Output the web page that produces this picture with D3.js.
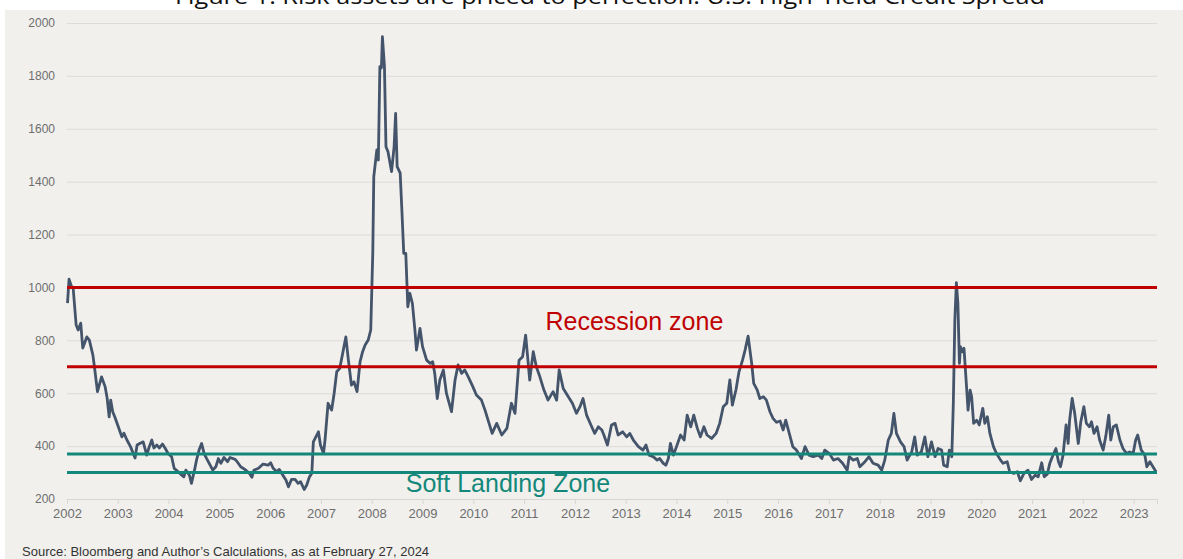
<!DOCTYPE html>
<html>
<head>
<meta charset="utf-8">
<script src="https://cdn.jsdelivr.net/npm/d3@7"></script>
<style>
  html, body { margin: 0; padding: 0; background: #ffffff; }
  #chart { width: 1183px; height: 559px; overflow: hidden; }
</style>
</head>
<body>
<div id="chart"></div>
<script>
// ---------------------------------------------------------------------------
// data (fractional year, spread in bp)
const years = [
  2002.01, 2002.04, 2002.09, 2002.12, 2002.18, 2002.22, 2002.27, 2002.31, 2002.39, 2002.44,
  2002.51, 2002.54, 2002.60, 2002.68, 2002.75, 2002.79, 2002.83, 2002.86, 2002.90, 2002.94,
  2003.01, 2003.08, 2003.12, 2003.18, 2003.25, 2003.34, 2003.38, 2003.44, 2003.50, 2003.57,
  2003.62, 2003.67, 2003.71, 2003.77, 2003.82, 2003.88, 2003.93, 2003.99, 2004.06, 2004.11,
  2004.19, 2004.26, 2004.30, 2004.34, 2004.41, 2004.45, 2004.51, 2004.55, 2004.60, 2004.65,
  2004.70, 2004.75, 2004.80, 2004.87, 2004.93, 2004.98, 2005.03, 2005.09, 2005.16, 2005.21,
  2005.31, 2005.35, 2005.42, 2005.50, 2005.59, 2005.64, 2005.68, 2005.77, 2005.86, 2005.96,
  2006.01, 2006.06, 2006.13, 2006.18, 2006.25, 2006.31, 2006.36, 2006.42, 2006.49, 2006.55,
  2006.60, 2006.67, 2006.72, 2006.77, 2006.82, 2006.85, 2006.90, 2006.95, 2006.99, 2007.05,
  2007.08, 2007.14, 2007.21, 2007.26, 2007.31, 2007.37, 2007.44, 2007.49, 2007.54, 2007.60,
  2007.65, 2007.71, 2007.77, 2007.82, 2007.87, 2007.93, 2007.98, 2008.02, 2008.04, 2008.10,
  2008.13, 2008.16, 2008.19, 2008.21, 2008.25, 2008.28, 2008.32, 2008.39, 2008.44, 2008.47,
  2008.50, 2008.56, 2008.59, 2008.63, 2008.67, 2008.71, 2008.75, 2008.80, 2008.85, 2008.88,
  2008.95, 2009.00, 2009.08, 2009.15, 2009.20, 2009.24, 2009.29, 2009.34, 2009.41, 2009.47,
  2009.57, 2009.64, 2009.70, 2009.77, 2009.83, 2009.90, 2009.99, 2010.06, 2010.16, 2010.23,
  2010.29, 2010.37, 2010.46, 2010.56, 2010.66, 2010.75, 2010.82, 2010.90, 2010.97, 2011.03,
  2011.11, 2011.18, 2011.24, 2011.31, 2011.39, 2011.47, 2011.57, 2011.64, 2011.69, 2011.77,
  2011.87, 2011.95, 2012.03, 2012.10, 2012.16, 2012.23, 2012.33, 2012.39, 2012.46, 2012.53,
  2012.57, 2012.64, 2012.72, 2012.79, 2012.85, 2012.94, 2013.02, 2013.08, 2013.15, 2013.25,
  2013.34, 2013.40, 2013.46, 2013.54, 2013.62, 2013.67, 2013.74, 2013.79, 2013.84, 2013.88,
  2013.94, 2014.00, 2014.08, 2014.15, 2014.21, 2014.28, 2014.34, 2014.41, 2014.47, 2014.54,
  2014.60, 2014.69, 2014.78, 2014.85, 2014.92, 2014.99, 2015.05, 2015.10, 2015.17, 2015.23,
  2015.30, 2015.35, 2015.41, 2015.48, 2015.52, 2015.59, 2015.64, 2015.71, 2015.77, 2015.84,
  2015.90, 2015.97, 2016.04, 2016.10, 2016.15, 2016.22, 2016.29, 2016.36, 2016.46, 2016.53,
  2016.61, 2016.69, 2016.79, 2016.86, 2016.92, 2017.01, 2017.09, 2017.18, 2017.27, 2017.36,
  2017.40, 2017.48, 2017.56, 2017.61, 2017.71, 2017.79, 2017.87, 2017.97, 2018.04, 2018.10,
  2018.17, 2018.23, 2018.28, 2018.33, 2018.41, 2018.48, 2018.54, 2018.63, 2018.69, 2018.74,
  2018.82, 2018.89, 2018.95, 2019.02, 2019.09, 2019.15, 2019.22, 2019.26, 2019.33, 2019.37,
  2019.42, 2019.45, 2019.48, 2019.51, 2019.54, 2019.57, 2019.59, 2019.63, 2019.66, 2019.71,
  2019.74, 2019.78, 2019.81, 2019.85, 2019.91, 2019.96, 2020.03, 2020.07, 2020.12, 2020.17,
  2020.24, 2020.30, 2020.38, 2020.43, 2020.51, 2020.56, 2020.64, 2020.71, 2020.77, 2020.84,
  2020.92, 2020.99, 2021.06, 2021.12, 2021.19, 2021.24, 2021.30, 2021.35, 2021.40, 2021.47,
  2021.52, 2021.56, 2021.61, 2021.67, 2021.71, 2021.74, 2021.79, 2021.84, 2021.91, 2021.96,
  2022.02, 2022.07, 2022.13, 2022.17, 2022.22, 2022.28, 2022.33, 2022.40, 2022.45, 2022.51,
  2022.55, 2022.60, 2022.66, 2022.73, 2022.79, 2022.86, 2022.92, 2022.99, 2023.04, 2023.08,
  2023.15, 2023.22, 2023.26, 2023.32, 2023.38, 2023.44
];

const spreads = [
  941, 1031, 1003, 1000, 858, 839, 865, 771, 813, 801,
  744, 700, 606, 662, 625, 582, 511, 574, 530, 511,
  473, 435, 449, 423, 398, 355, 404, 411, 416, 366,
  398, 423, 393, 404, 393, 408, 393, 372, 360, 316,
  303, 290, 284, 309, 290, 259, 309, 347, 385, 410,
  372, 353, 335, 309, 322, 353, 335, 357, 341, 357,
  350, 341, 322, 312, 297, 282, 309, 316, 332, 328,
  337, 316, 303, 312, 290, 272, 246, 274, 274, 259,
  265, 236, 253, 282, 297, 416, 435, 454, 404, 372,
  423, 562, 536, 600, 681, 694, 763, 813, 725, 631,
  643, 606, 719, 757, 782, 801, 839, 1129, 1419, 1520,
  1482, 1835, 1830, 1948, 1835, 1532, 1513, 1438, 1532, 1658,
  1457, 1432, 1305, 1129, 1129, 927, 978, 940, 839, 763,
  845, 776, 725, 713, 719, 675, 580, 650, 688, 600,
  530, 650, 707, 675, 688, 662, 625, 593, 574, 536,
  498, 448, 486, 442, 467, 562, 524, 725, 738, 820,
  650, 757, 700, 662, 612, 574, 606, 574, 688, 618,
  587, 562, 524, 549, 580, 517, 473, 448, 473, 461,
  442, 404, 480, 486, 442, 454, 435, 448, 423, 398,
  385, 404, 366, 360, 347, 353, 335, 328, 353, 410,
  366, 398, 442, 423, 517, 473, 517, 467, 435, 473,
  442, 429, 448, 486, 549, 562, 650, 555, 612, 681,
  725, 763, 816, 713, 637, 612, 580, 587, 574, 530,
  505, 490, 495, 461, 498, 448, 398, 385, 353, 398,
  366, 360, 366, 353, 385, 372, 347, 353, 335, 309,
  360, 347, 353, 322, 341, 360, 335, 328, 309, 347,
  423, 448, 524, 448, 416, 398, 347, 378, 435, 366,
  378, 435, 360, 416, 360, 391, 385, 328, 322, 385,
  360, 562, 877, 1018, 940, 713, 776, 757, 770, 625,
  536, 612, 587, 486, 498, 480, 543, 486, 511, 448,
  398, 372, 347, 335, 341, 303, 297, 303, 269, 297,
  309, 274, 290, 284, 337, 284, 294, 335, 360, 391,
  341, 322, 366, 480, 410, 498, 580, 524, 410, 492,
  549, 486, 473, 492, 448, 473, 423, 385, 435, 517,
  423, 473, 480, 423, 391, 372, 378, 372, 423, 442,
  385, 366, 322, 341, 322, 303
];

const yearTicks = d3.range(2002, 2024);               // 2002 ... 2023
const spreadTicks = [200, 400, 600, 800, 1000, 1200, 1400, 1600, 1800, 2000];
const recessionLevels = [1000, 700];
const softLandingLevels = [370, 300];

const titleText = "Figure 1: Risk assets are priced to perfection: U.S. High-Yield Credit Spread";
const sourceText = "Source: Bloomberg and Author\u2019s Calculations, as at February 27, 2024";

// ---------------------------------------------------------------------------
// dimensions
const W = 1183, H = 559;
const margin = {top: 23, right: 26, bottom: 60, left: 67};
const width = W - margin.left - margin.right;    // 1090
const height = H - margin.top - margin.bottom;   // 476

const svg = d3.select("#chart")
  .append("svg")
    .attr("width", W)
    .attr("height", H);

// grey panel behind the plot
svg.append("rect")
  .attr("x", 5).attr("y", 10)
  .attr("width", W - 5).attr("height", H - 10)
  .attr("fill", "#f1f0ed");

// title (cut off at the top like the picture)
svg.append("text")
  .attr("x", 610).attr("y", 4)
  .attr("text-anchor", "middle")
  .attr("font-family", "'Open Sans', 'Noto Sans', sans-serif")
  .attr("font-size", 22)
  .attr("textLength", 870)
  .attr("lengthAdjust", "spacingAndGlyphs")
  .attr("fill", "#111")
  .text(titleText);

const g = svg.append("g")
  .attr("transform", "translate(" + margin.left + "," + margin.top + ")");

// scales
const x = d3.scaleLinear()
  .domain([2002, 2023.46])
  .range([0, width]);

const y = d3.scaleLinear()
  .domain([200, 2000])
  .range([height, 0]);

// horizontal grid + y labels
const yAxis = g.append("g")
  .call(d3.axisLeft(y).tickValues(spreadTicks).tickSize(-width).tickPadding(12).tickFormat(d3.format("d")));
yAxis.select(".domain").remove();
yAxis.selectAll(".tick line").attr("stroke", "#dcdcdc").attr("stroke-width", 1);
yAxis.selectAll(".tick text")
  .attr("font-family", "'Liberation Sans', Arial, sans-serif")
  .attr("font-size", 12)
  .attr("fill", "#6e6e6e");

// x axis
const xAxis = g.append("g")
  .attr("transform", "translate(0," + height + ")")
  .call(d3.axisBottom(x).tickValues(yearTicks).tickSize(5).tickPadding(5).tickFormat(d3.format("d")));
xAxis.select(".domain").attr("stroke", "#d6d6d6");
xAxis.selectAll(".tick line").attr("stroke", "#d6d6d6");
xAxis.selectAll(".tick text")
  .attr("font-family", "'Liberation Sans', Arial, sans-serif")
  .attr("font-size", 13)
  .attr("fill", "#6e6e6e");

// spread series
const series = years.map((t, i) => ({t: t, v: spreads[i]}));
const line = d3.line()
  .x(d => x(d.t))
  .y(d => y(d.v));

g.append("path")
  .datum(series)
  .attr("fill", "none")
  .attr("stroke", "#44546a")
  .attr("stroke-width", 2.8)
  .attr("stroke-linejoin", "round")
  .attr("d", line);

// zone lines, drawn over the series
g.selectAll(".recession").data(recessionLevels)
  .enter().append("line")
    .attr("x1", 0).attr("x2", width)
    .attr("y1", d => y(d)).attr("y2", d => y(d))
    .attr("stroke", "#c00000")
    .attr("stroke-width", 3);

g.selectAll(".soft").data(softLandingLevels)
  .enter().append("line")
    .attr("x1", 0).attr("x2", width)
    .attr("y1", d => y(d)).attr("y2", d => y(d))
    .attr("stroke", "#13887a")
    .attr("stroke-width", 3);

// zone labels
g.append("text")
  .attr("x", x(2011.42)).attr("y", y(840))
  .attr("font-family", "'Liberation Sans', Arial, sans-serif")
  .attr("font-size", 25)
  .attr("fill", "#c00000")
  .text("Recession zone");

g.append("text")
  .attr("x", x(2008.67)).attr("y", y(225))
  .attr("font-family", "'Liberation Sans', Arial, sans-serif")
  .attr("font-size", 25)
  .attr("fill", "#13887a")
  .text("Soft Landing Zone");

// source note
svg.append("text")
  .attr("x", 22).attr("y", 556)
  .attr("font-family", "'Liberation Sans', Arial, sans-serif")
  .attr("font-size", 13)
  .attr("fill", "#333")
  .text(sourceText);
</script>
</body>
</html>
